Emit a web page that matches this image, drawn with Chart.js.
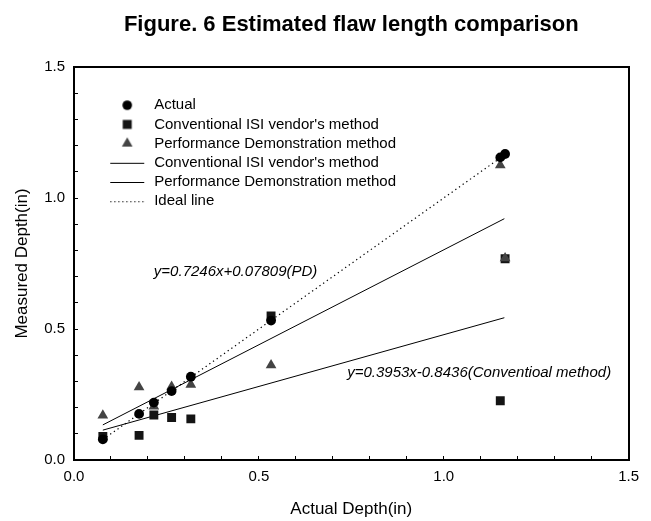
<!DOCTYPE html>
<html>
<head>
<meta charset="utf-8">
<script src="https://cdn.jsdelivr.net/npm/chart.js@4.4.1/dist/chart.umd.min.js"></script>
<style>
  html, body { margin: 0; padding: 0; background: #ffffff; }
  #wrap { width: 651px; height: 521px; position: relative; }
</style>
</head>
<body>
<div id="wrap"><canvas id="c" width="651" height="521"></canvas></div>
<script>
// ---------------- data ----------------
const chartTitle = "Figure. 6 Estimated flaw length comparison";
const xAxisTitle = "Actual Depth(in)";
const yAxisTitle = "Measured Depth(in)";

const actualX = [0.078, 0.176, 0.216, 0.264, 0.316, 0.533, 1.153, 1.166];
const actualY = [0.079, 0.176, 0.219, 0.263, 0.318, 0.532, 1.155, 1.168];

const convX = [0.078, 0.176, 0.216, 0.264, 0.316, 0.533, 1.153, 1.166];
const convY = [0.090, 0.094, 0.172, 0.162, 0.157, 0.550, 0.226, 0.768];

const pdX = [0.078, 0.176, 0.216, 0.264, 0.316, 0.533, 1.153, 1.166];
const pdY = [0.170, 0.278, 0.205, 0.280, 0.288, 0.362, 1.125, 0.770];

const convFitX = [0.078, 1.164];
const convFitY = [0.114, 0.543];

const pdFitX = [0.078, 1.164];
const pdFitY = [0.134, 0.921];

const idealX = [0.078, 1.150];
const idealY = [0.078, 1.150];

const legendNames = [
  "Actual",
  "Conventional ISI vendor's method",
  "Performance Demonstration method",
  "Conventional ISI vendor's method",
  "Performance Demonstration method",
  "Ideal line"
];

const equationTexts = [
  "y=0.7246x+0.07809(PD)",
  "y=0.3953x-0.8436(Conventioal method)"
];
const equationAnchorX = [0.216, 0.739];
const equationAnchorY = [0.720, 0.331];

const axisMin = 0, axisMax = 1.5, tickStep = 0.1;

// ---------------- style ----------------
const FONT = "'Liberation Sans', Arial, Helvetica, sans-serif";
Chart.defaults.font.family = FONT;
Chart.defaults.color = '#000';

const COL_CIRCLE = '#000000';
const COL_SQUARE = '#141414';
const COL_TRI = '#444444';

function pts(xs, ys) { return xs.map((x, i) => ({ x: x, y: ys[i] })); }

function tickLabel(v) {
  const r = Math.round(v * 2);
  return Math.abs(v * 2 - r) < 1e-6 ? (r / 2).toFixed(1) : '';
}

// legend icons (canvas images)
function makeIcon(kind) {
  const c = document.createElement('canvas');
  c.width = 40; c.height = 16;
  const g = c.getContext('2d');
  const cx = 20, cy = 8;
  if (kind === 'circle') {
    g.fillStyle = COL_CIRCLE; g.beginPath(); g.arc(cx, cy, 4.8, 0, Math.PI * 2); g.fill();
  } else if (kind === 'square') {
    g.fillStyle = COL_SQUARE; g.fillRect(cx - 4.5, cy - 4.5, 9, 9);
  } else if (kind === 'triangle') {
    const r = 6.2;
    g.fillStyle = COL_TRI; g.beginPath();
    g.moveTo(cx, cy - r);
    g.lineTo(cx + r * Math.sin(2 * Math.PI / 3), cy + r / 2);
    g.lineTo(cx - r * Math.sin(2 * Math.PI / 3), cy + r / 2);
    g.closePath(); g.fill();
  } else if (kind === 'line' || kind === 'dot') {
    g.strokeStyle = '#000'; g.lineWidth = 1;
    if (kind === 'dot') g.setLineDash([1.3, 2.7]);
    g.beginPath(); g.moveTo(3, cy + 0.5); g.lineTo(37, cy + 0.5); g.stroke();
  }
  return c;
}
const legendIcons = ['circle', 'square', 'triangle', 'line', 'line', 'dot'].map(makeIcon);

// move legend inside plot area
const legendOffset = { dx: 29.5, dy: 26.5 };
const legendMover = {
  id: 'legendMover',
  afterLayout(chart) {
    const lg = chart.legend, ca = chart.chartArea;
    if (!lg) return;
    const w = lg.width, h = lg.height;
    lg.left = ca.left + legendOffset.dx;
    lg.top = ca.top + legendOffset.dy;
    lg.right = lg.left + w;
    lg.bottom = lg.top + h;
  }
};

// regression equation labels
const equationLabels = {
  id: 'equationLabels',
  afterDatasetsDraw(chart) {
    const { ctx, scales } = chart;
    ctx.save();
    ctx.font = 'italic 15px ' + FONT;
    ctx.fillStyle = '#000';
    ctx.textAlign = 'left';
    ctx.textBaseline = 'middle';
    equationTexts.forEach((t, i) => {
      ctx.fillText(t, scales.x.getPixelForValue(equationAnchorX[i]), scales.y.getPixelForValue(equationAnchorY[i]));
    });
    ctx.restore();
  }
};

const axisCommon = {
  ticks: { stepSize: tickStep, autoSkip: false, maxRotation: 0, font: { size: 15 }, color: '#000', callback: tickLabel },
  grid: { drawOnChartArea: false, drawTicks: true, tickLength: -4, tickColor: '#000', tickWidth: 1 },
  border: { display: true, color: '#000', width: 2 }
};

new Chart(document.getElementById('c'), {
  type: 'scatter',
  data: {
    datasets: [
      { label: legendNames[0], data: pts(actualX, actualY), pointStyle: 'circle', pointRadius: 4.9,
        backgroundColor: COL_CIRCLE, borderColor: COL_CIRCLE, borderWidth: 0, order: 0 },
      { label: legendNames[1], data: pts(convX, convY), pointStyle: 'rect', pointRadius: 6.3,
        backgroundColor: COL_SQUARE, borderColor: COL_SQUARE, borderWidth: 0, order: 2 },
      { label: legendNames[2], data: pts(pdX, pdY), pointStyle: 'triangle', pointRadius: 6.2,
        backgroundColor: COL_TRI, borderColor: COL_TRI, borderWidth: 0, order: 1 },
      { label: legendNames[3], data: pts(convFitX, convFitY), showLine: true, pointRadius: 0,
        borderColor: '#000', borderWidth: 1, order: 3 },
      { label: legendNames[4], data: pts(pdFitX, pdFitY), showLine: true, pointRadius: 0,
        borderColor: '#000', borderWidth: 1, order: 3 },
      { label: legendNames[5], data: pts(idealX, idealY), showLine: true, pointRadius: 0,
        borderColor: '#000', borderWidth: 1.2, borderDash: [1.3, 3.2], order: 3 }
    ]
  },
  options: {
    responsive: false,
    animation: false,
    events: [],
    layout: { padding: { left: 0, right: 11, top: 0, bottom: 0 } },
    scales: {
      x: Object.assign({}, axisCommon, {
        type: 'linear', position: 'bottom', min: axisMin, max: axisMax,
        ticks: Object.assign({}, axisCommon.ticks, { padding: 12 }),
        title: { display: true, text: xAxisTitle, font: { size: 17 }, color: '#000', padding: { top: 0, bottom: 1 } },
        afterFit(s) { s.height = 61; }
      }),
      y: Object.assign({}, axisCommon, {
        type: 'linear', position: 'left', min: axisMin, max: axisMax,
        ticks: Object.assign({}, axisCommon.ticks, { padding: 13 }),
        title: { display: true, text: yAxisTitle, font: { size: 17 }, color: '#000', padding: { top: 12, bottom: 0 } },
        afterFit(s) { s.width = 74; }
      }),
      x2: { type: 'linear', position: 'top', min: axisMin, max: axisMax,
        ticks: { display: false }, grid: { display: false, drawTicks: false },
        border: { display: true, color: '#000', width: 2 },
        afterFit(s) { s.height = 0; } },
      y2: { type: 'linear', position: 'right', min: axisMin, max: axisMax,
        ticks: { display: false }, grid: { display: false, drawTicks: false },
        border: { display: true, color: '#000', width: 2 },
        afterFit(s) { s.width = 0; } }
    },
    plugins: {
      title: { display: true, text: chartTitle, fullSize: false, color: '#000',
        font: { size: 22, weight: 'bold' }, padding: { top: 11.5, bottom: 29.1 } },
      legend: {
        display: true, position: 'chartArea', align: 'start',
        labels: {
          usePointStyle: true, pointStyleWidth: 39, padding: 4.2,
          font: { size: 15 }, color: '#000',
          generateLabels() {
            return legendNames.map((t, i) => ({
              text: t, pointStyle: legendIcons[i], fillStyle: '#000', strokeStyle: '#000',
              lineWidth: 0, hidden: false, datasetIndex: i, fontColor: '#000'
            }));
          }
        }
      },
      tooltip: { enabled: false }
    }
  },
  plugins: [legendMover, equationLabels]
});
</script>
</body>
</html>
